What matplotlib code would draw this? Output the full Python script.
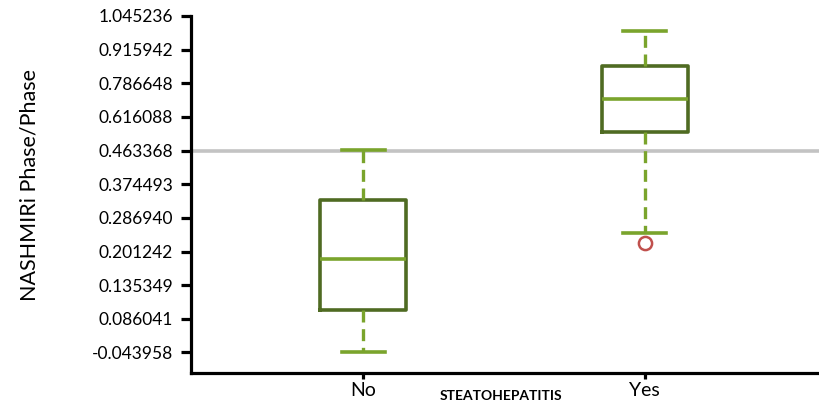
import numpy as np
import matplotlib
matplotlib.use("Agg")
import matplotlib.pyplot as plt

# ---- data ----
categories = ["No", "Yes"]
tick_values = [-0.043958, 0.086041, 0.135349, 0.201242, 0.286940, 0.374493,
               0.463368, 0.616088, 0.786648, 0.915942, 1.045236]
tick_labels = ["-0.043958", "0.086041", "0.135349", "0.201242", "0.286940", "0.374493",
               "0.463368", "0.616088", "0.786648", "0.915942", "1.045236"]
whisker_low = [-0.043958, 0.2477]
q1 = [0.0990, 0.5480]
median = [0.1867, 0.7072]
q3 = [0.3335, 0.8550]
whisker_high = [0.4660, 0.9876]
outliers = [[], [0.2238]]
reference_line = 0.463368

plt.rcParams['font.family'] = ['Lato', 'DejaVu Sans']

tv = np.array(tick_values)
tp = np.arange(len(tv), dtype=float)

def forward(v):
    v = np.asarray(v, dtype=float)
    out = np.interp(v, tv, tp)
    lo = v < tv[0]
    hi = v > tv[-1]
    out = np.where(lo, (v - tv[0]) / (tv[1] - tv[0]), out)
    out = np.where(hi, tp[-1] + (v - tv[-1]) / (tv[-1] - tv[-2]), out)
    return out

def inverse(p):
    p = np.asarray(p, dtype=float)
    out = np.interp(p, tp, tv)
    lo = p < tp[0]
    hi = p > tp[-1]
    out = np.where(lo, tv[0] + p * (tv[1] - tv[0]), out)
    out = np.where(hi, tv[-1] + (p - tp[-1]) * (tv[-1] - tv[-2]), out)
    return out

fig = plt.figure(figsize=(8.2, 4.07), dpi=100)
ax = fig.add_axes([191/820, 1 - 373/407, 1 - 191/820, (373 - 16)/407])
ax.set_yscale('function', functions=(forward, inverse))

box_color = "#4f6b22"
light = "#7aa42c"
stats = []
for i, c in enumerate(categories):
    stats.append(dict(label=c, whislo=whisker_low[i], q1=q1[i], med=median[i],
                      q3=q3[i], whishi=whisker_high[i], fliers=outliers[i]))

ax.axhline(reference_line, color="#c3c3c3", lw=2.6, zorder=1)

ax.bxp(stats, positions=[1, 2], widths=0.305, showfliers=True,
       boxprops=dict(color=box_color, lw=2.6),
       medianprops=dict(color=light, lw=2.6),
       whiskerprops=dict(color=light, lw=2.4, linestyle=(0, (3.6, 2.0))),
       capprops=dict(color=light, lw=2.6),
       flierprops=dict(marker='o', markerfacecolor='none', markeredgecolor="#c0504d",
                       markersize=9.5, markeredgewidth=1.8),
       manage_ticks=False, zorder=3)

ax.set_xlim(0.389, 2.623)
ax.set_ylim(inverse(-0.61), tick_values[-1])
ax.set_yticks(tick_values)
ax.set_yticklabels(tick_labels)
ax.set_xticks([1, 2])
ax.set_xticklabels(categories)

for s in ['top', 'right']:
    ax.spines[s].set_visible(False)
for s in ['left', 'bottom']:
    ax.spines[s].set_linewidth(2.3)
    ax.spines[s].set_color('black')
ax.spines['left'].set_capstyle('projecting')

ax.tick_params(axis='y', length=7, width=2.3, pad=6, labelsize=12.5, colors='black')
ax.tick_params(axis='x', length=4.5, width=2.3, pad=2, labelsize=14, colors='black')

fig.text(30/820, 1 - 185/407, "NASHMIRi Phase/Phase", fontsize=15.5, rotation=90,
         ha='center', va='center')
fig.text(501/820, 1 - 396/407, "STEATOHEPATITIS", fontsize=10, fontweight='bold',
         ha='center', va='center')

fig.savefig("out.png", dpi=100)
